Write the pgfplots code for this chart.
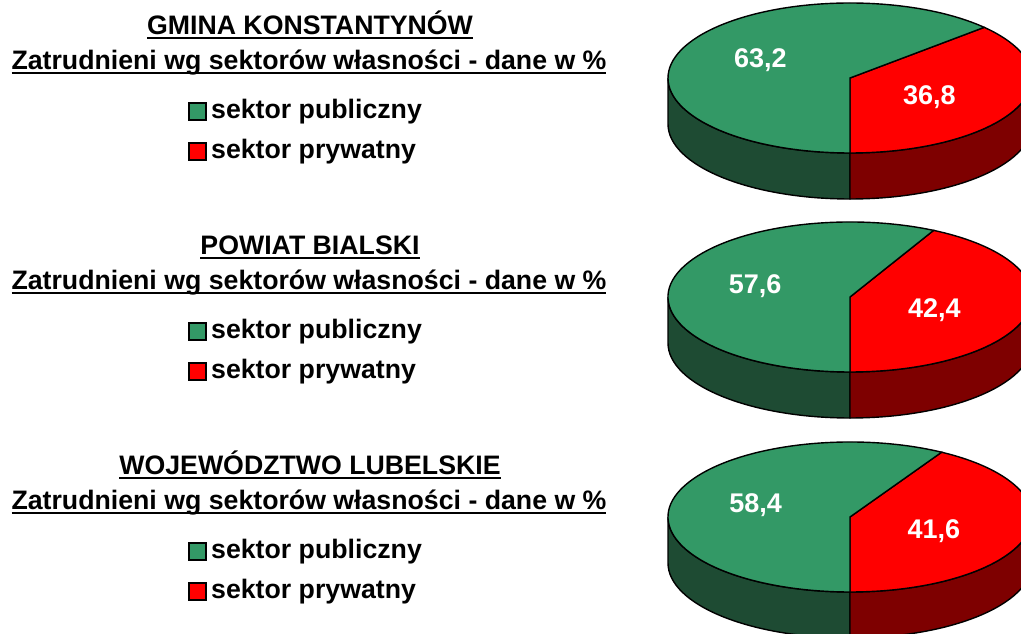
\documentclass[border=0pt]{standalone}
\usepackage{pgfplots}
\pgfplotsset{compat=1.18}
\usepackage{fontspec}
\setmainfont{Liberation Sans}

\definecolor{pubgreen}{HTML}{339966}
\definecolor{pubside}{HTML}{1E4B33}
\definecolor{privred}{HTML}{FF0000}
\definecolor{privside}{HTML}{7E0000}

\pgfplotsset{/pgf/number format/.cd, use comma, fixed, precision=1, fixed zerofill, assume math mode=true}

% underline: rule below the baseline
\newcommand\ul[1]{\setbox0\hbox{#1}\rlap{\rule[-4.2pt]{\wd0}{2.6pt}}\box0}
\newcommand\key[1]{{\setlength\fboxrule{2pt}\setlength\fboxsep{0pt}\fcolorbox{black}{#1}{\rule{0pt}{15pt}\rule{15pt}{0pt}}}\hspace{4pt}}

% #1 = centre y of top face, #2 = public, #3 = private (per cent)
\newcommand\pie[3]{%
  \filldraw[fill=pubside, draw=black, line width=1.4pt]
    (axis cs:668,{#1}) -- (axis cs:668,{#1-46})
    arc[start angle=180, end angle=270, x radius=182, y radius=75]
    -- (axis cs:850,{#1-75})
    arc[start angle=270, end angle=180, x radius=182, y radius=75] -- cycle;
  \filldraw[fill=privside, draw=black, line width=1.4pt]
    (axis cs:850,{#1-75}) -- (axis cs:850,{#1-121})
    arc[start angle=270, end angle=360, x radius=182, y radius=75]
    -- (axis cs:1032,{#1})
    arc[start angle=360, end angle=270, x radius=182, y radius=75] -- cycle;
  \filldraw[fill=privred, draw=black, line width=1.4pt]
    (axis cs:850,{#1}) -- (axis cs:850,{#1-75})
    arc[start angle=-90, end angle={-90+3.6*#3}, x radius=182, y radius=75] -- cycle;
  \filldraw[fill=pubgreen, draw=black, line width=1.4pt]
    (axis cs:850,{#1}) -- (axis cs:{850+182*cos(-90+3.6*#3)},{#1+75*sin(-90+3.6*#3)})
    arc[start angle={-90+3.6*#3}, end angle=270, x radius=182, y radius=75] -- cycle;
  \node[text=white, font=\bfseries\fontsize{27}{30}\selectfont, inner sep=0pt]
    at (axis cs:{850+0.52*182*cos(-90+3.6*#3+1.8*#2)-3},{#1+0.6*75*sin(-90+3.6*#3+1.8*#2)})
    {\pgfmathprintnumber{#2}};
  \node[text=white, font=\bfseries\fontsize{27}{30}\selectfont, inner sep=0pt]
    at (axis cs:{850+0.5*182*cos(-90+1.8*#3)-4},{#1+0.5*75*sin(-90+1.8*#3)-4})
    {\pgfmathprintnumber{#3}};
}

% #1 = baseline y of the title
\newcommand\block[2]{%
  \node[anchor=base, inner sep=0pt, font=\bfseries\fontsize{26.7}{30}\selectfont]
    at (axis cs:310,{#1}) {\ul{#2}};
  \node[anchor=base, inner sep=0pt, font=\bfseries\fontsize{26.7}{30}\selectfont]
    at (axis cs:309,{#1-35}) {\ul{Zatrudnieni wg sektorów własności - dane w \%}};
  \node[anchor=base west, inner sep=0pt, font=\bfseries\fontsize{26.7}{30}\selectfont]
    at (axis cs:188,{#1-84}) {\key{pubgreen}sektor publiczny};
  \node[anchor=base west, inner sep=0pt, font=\bfseries\fontsize{26.7}{30}\selectfont]
    at (axis cs:188,{#1-124}) {\key{privred}sektor prywatny};
}

\begin{document}
\begin{tikzpicture}
\begin{axis}[
  x=1pt, y=1pt,
  xmin=0, xmax=1021, ymin=0, ymax=634,
  scale only axis, hide axis, clip=true,
]
\addplot[draw=none] coordinates {(0,0) (1021,634)};
\block{599}{GMINA KONSTANTYNÓW}
\block{379}{POWIAT BIALSKI}
\block{159}{WOJEWÓDZTWO LUBELSKIE}
\pie{556}{63.2}{36.8}
\pie{337}{57.6}{42.4}
\pie{117}{58.4}{41.6}
\end{axis}
\end{tikzpicture}
\end{document}
